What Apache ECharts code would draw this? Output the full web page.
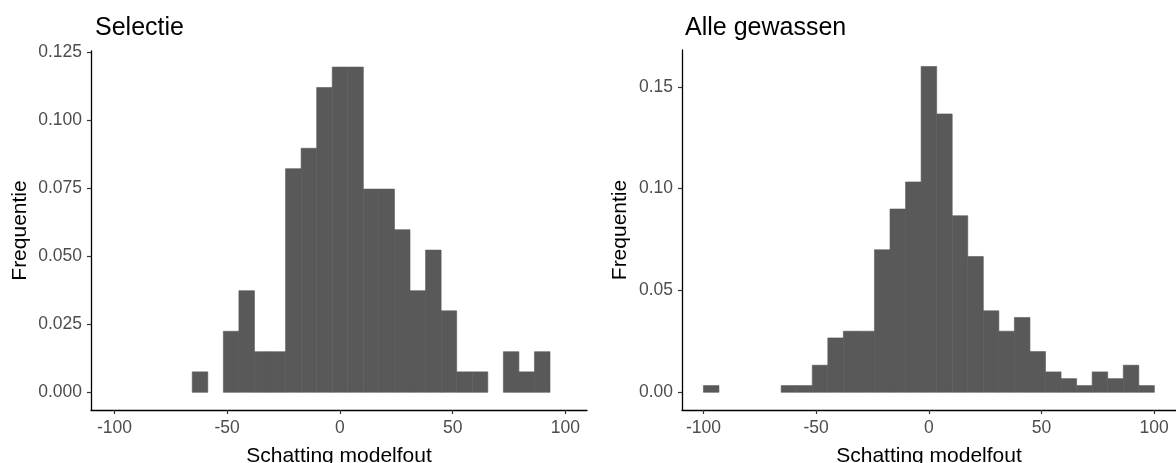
<!DOCTYPE html>
<html>
<head>
<meta charset="utf-8">
<script src="https://cdn.jsdelivr.net/npm/echarts@6/dist/echarts.min.js"></script>
<style>
html,body{margin:0;padding:0;background:#fff;}
#chart{width:1176px;height:463px;}
</style>
</head>
<body>
<div id="chart"></div>
<script>
// Histogram bins: left edge of first bin and bin width (x units)
const binStart = -100;
const binWidth = 6.9;
// Relative frequency per bin
const selectieFreq = [0, 0, 0, 0, 0, 0.0075, 0, 0.0224, 0.0373, 0.0149, 0.0149, 0.0821, 0.0896, 0.1119, 0.1194,
  0.1194, 0.0746, 0.0746, 0.0597, 0.0373, 0.0522, 0.0299, 0.0075, 0.0075, 0, 0.0149, 0.0075, 0.0149, 0];
const alleFreq = [0.0033, 0, 0, 0, 0, 0.0033, 0.0033, 0.0133, 0.0267, 0.0300, 0.0300, 0.0700, 0.0900, 0.1033, 0.1600,
  0.1367, 0.0867, 0.0667, 0.0400, 0.0300, 0.0367, 0.0200, 0.0100, 0.0067, 0.0033, 0.0100, 0.0067, 0.0133, 0.0033];
// Tick labels
const xTicks = [-100, -50, 0, 50, 100];
const selectieYTicks = [0, 0.025, 0.05, 0.075, 0.1, 0.125];
const alleYTicks = [0, 0.05, 0.1, 0.15];
const titles = ['Selectie', 'Alle gewassen'];
const xName = 'Schatting modelfout';
const yName = 'Frequentie';

function toBins(freqs) {
  const out = [];
  freqs.forEach((f, i) => {
    if (f > 0) out.push([binStart + i * binWidth, binStart + (i + 1) * binWidth, f]);
  });
  return out;
}

const FONT = 'Liberation Sans, Arial, sans-serif';
const chart = echarts.init(document.getElementById('chart'), null, {renderer: 'canvas'});

function xAxisOpt(gridIndex, min, max) {
  return {
    type: 'value', gridIndex, min, max,
    name: xName, nameLocation: 'middle', nameGap: 36,
    nameTextStyle: {fontSize: 21, color: '#000', fontFamily: FONT},
    axisLine: {show: true, onZero: false, lineStyle: {color: '#000', width: 1.3}},
    axisTick: {show: true, length: 4, lineStyle: {color: '#333', width: 1.2}, customValues: xTicks},
    axisLabel: {show: true, margin: 9, fontSize: 17.5, color: '#4d4d4d', fontFamily: FONT, customValues: xTicks,
      formatter: v => String(v)},
    splitLine: {show: false}
  };
}
function yAxisOpt(gridIndex, min, max, ticks, dec, gap) {
  return {
    type: 'value', gridIndex, min, max,
    name: yName, nameLocation: 'middle', nameGap: gap, nameRotate: 90,
    nameTextStyle: {fontSize: 21, color: '#000', fontFamily: FONT},
    axisLine: {show: true, onZero: false, lineStyle: {color: '#000', width: 1.3}},
    axisTick: {show: true, length: 4, lineStyle: {color: '#333', width: 1.2}, customValues: ticks},
    axisLabel: {show: true, margin: 9, fontSize: 17.5, color: '#4d4d4d', fontFamily: FONT, customValues: ticks,
      formatter: v => Number(v).toFixed(dec)},
    splitLine: {show: false}
  };
}

function renderBar(params, api) {
  const p0 = api.coord([api.value(0), api.value(2)]);
  const p1 = api.coord([api.value(1), 0]);
  return {
    type: 'rect',
    shape: {x: p0[0], y: p0[1], width: p1[0] - p0[0], height: p1[1] - p0[1]},
    style: {fill: '#595959', stroke: '#595959', lineWidth: 0.6}
  };
}

chart.setOption({
  animation: false,
  textStyle: {fontFamily: FONT},
  title: [
    {text: titles[0], left: 90, top: 11, textStyle: {fontSize: 25, fontWeight: 'normal', color: '#000', fontFamily: FONT}},
    {text: titles[1], left: 680, top: 11, textStyle: {fontSize: 25, fontWeight: 'normal', color: '#000', fontFamily: FONT}}
  ],
  grid: [
    {left: 91, top: 51, width: 496, height: 359, containLabel: false, outerBoundsMode: 'none'},
    {left: 682, top: 50, width: 494, height: 360, containLabel: false, outerBoundsMode: 'none'}
  ],
  xAxis: [xAxisOpt(0, -110.4, 109.6), xAxisOpt(1, -109.5, 109.7)],
  yAxis: [yAxisOpt(0, -0.0065, 0.1253, selectieYTicks, 3, 60), yAxisOpt(1, -0.0087, 0.1681, alleYTicks, 2, 51)],
  series: [
    {type: 'custom', xAxisIndex: 0, yAxisIndex: 0, renderItem: renderBar, data: toBins(selectieFreq),
      encode: {x: [0, 1], y: 2}, clip: false},
    {type: 'custom', xAxisIndex: 1, yAxisIndex: 1, renderItem: renderBar, data: toBins(alleFreq),
      encode: {x: [0, 1], y: 2}, clip: false}
  ]
});
</script>
</body>
</html>
